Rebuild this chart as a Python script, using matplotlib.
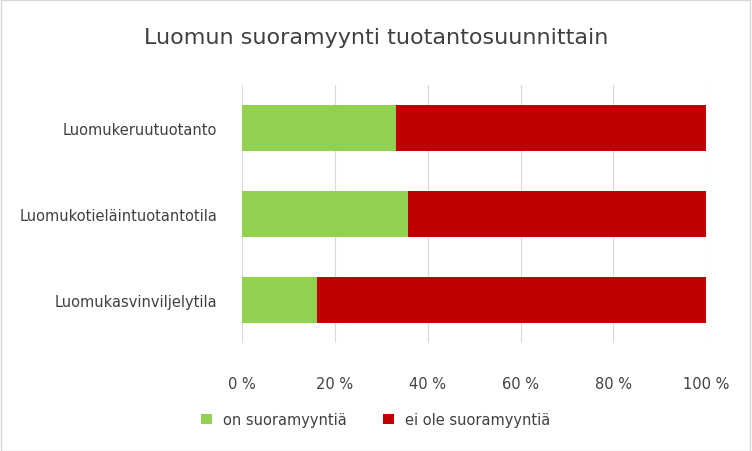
import matplotlib
matplotlib.use("Agg")
import matplotlib.pyplot as plt
from matplotlib.ticker import FuncFormatter

categories = ["Luomukeruutuotanto", "Luomukotieläintuotantotila", "Luomukasvinviljelytila"]
on_suoramyyntia = [33.2, 35.8, 16.2]
ei_suoramyyntia = [66.8, 64.2, 83.8]

fig = plt.figure(figsize=(7.52, 4.52), dpi=100)
ax = fig.add_axes([0.322, 0.239, 0.617, 0.571])
y = list(range(len(categories)))[::-1]
ax.barh(y, on_suoramyyntia, height=0.53, color="#92D050", label="on suoramyyntiä")
ax.barh(y, ei_suoramyyntia, left=on_suoramyyntia, height=0.53, color="#C00000", label="ei ole suoramyyntiä")
ax.set_xlim(0, 100)
ax.set_ylim(-0.5, 2.5)
ax.set_yticks(y)
ax.set_yticklabels(categories, fontsize=10.5, color="#404040")
ax.set_xticks([0, 20, 40, 60, 80, 100])
ax.xaxis.set_major_formatter(FuncFormatter(lambda v, p: f"{int(v)} %"))
ax.tick_params(axis="x", labelsize=10.5, labelcolor="#404040", length=0, pad=24)
ax.tick_params(axis="y", length=0, pad=18)
ax.grid(axis="x", color="#D9D9D9", linewidth=0.8)
ax.set_axisbelow(True)
for s in ax.spines.values():
    s.set_visible(False)
fig.text(0.5, 0.915, "Luomun suoramyynti tuotantosuunnittain", ha="center", va="center",
         fontsize=16, color="#404040")
fig.legend(loc="center", bbox_to_anchor=(0.5, 0.07), ncol=2, frameon=False,
           fontsize=10.5, handlelength=0.7, handleheight=0.7, columnspacing=2.5,
           labelcolor="#404040")
fig.patches.append(plt.Rectangle((0.001, 0.001), 0.997, 0.997, transform=fig.transFigure,
                                 fill=False, edgecolor="#D9D9D9", linewidth=1))
fig.savefig("out.png", dpi=100)
